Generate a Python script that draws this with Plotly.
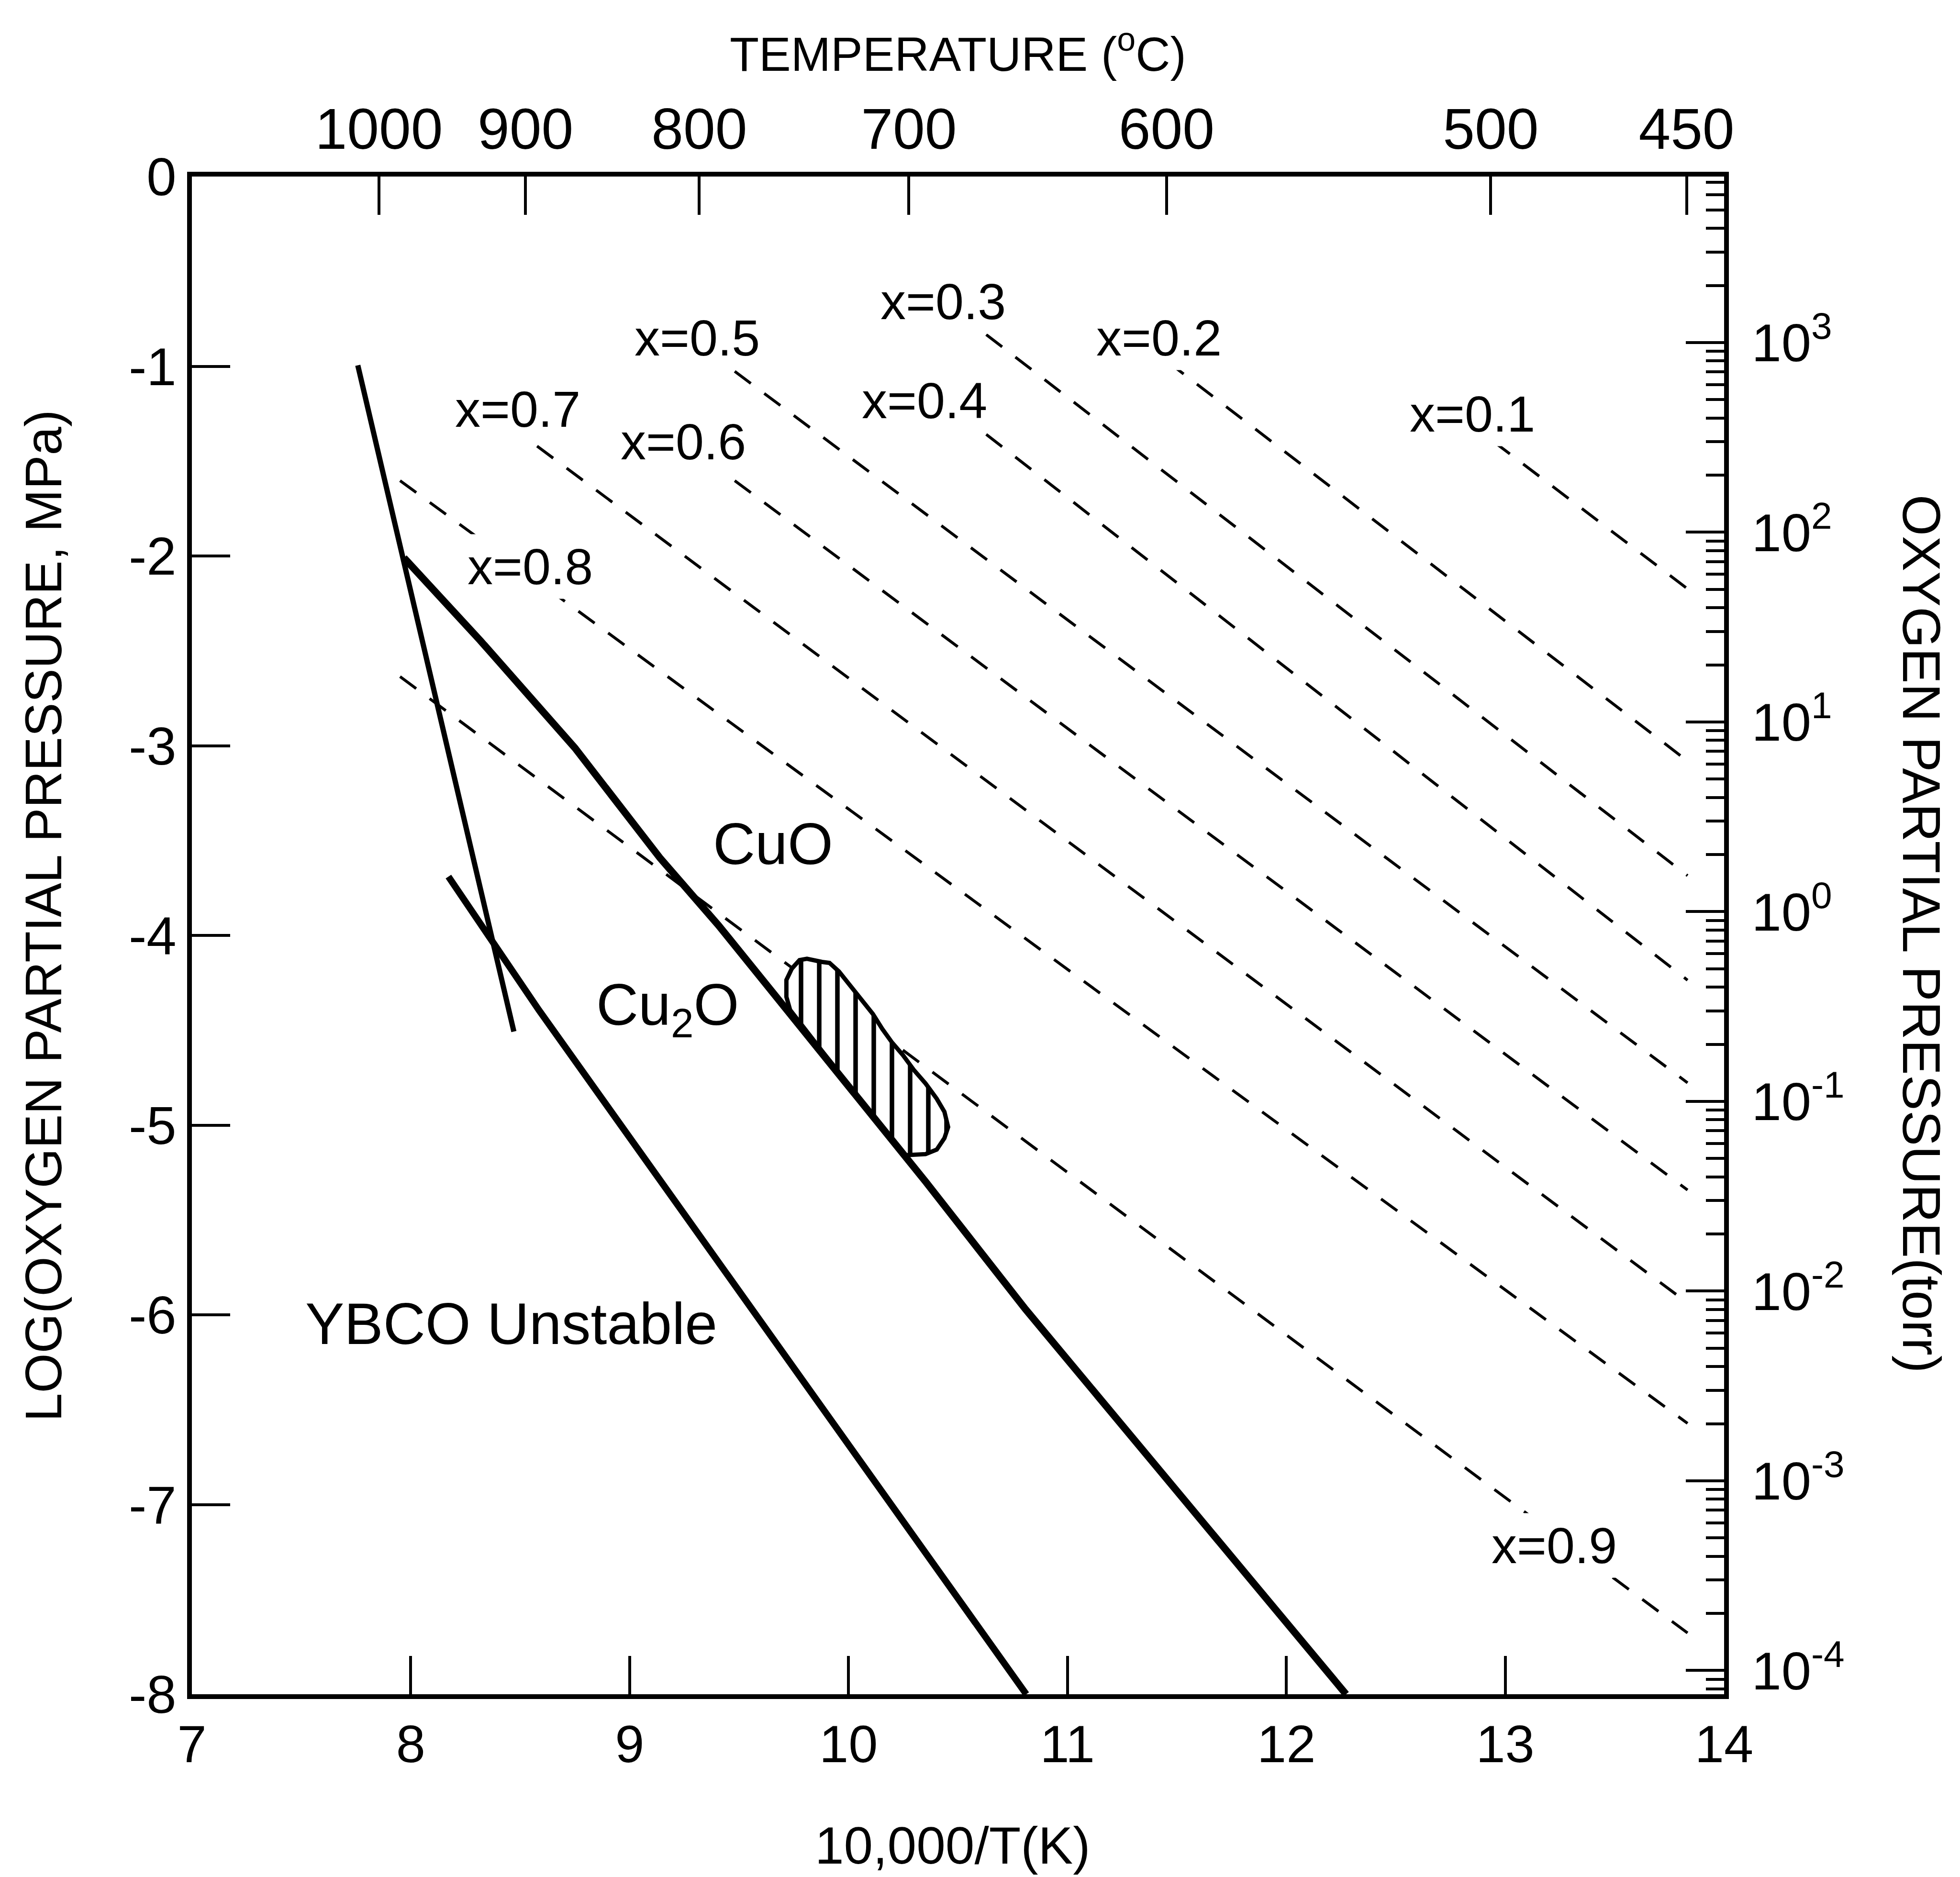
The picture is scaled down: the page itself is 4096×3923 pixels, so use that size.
import plotly.graph_objects as go
import numpy as np

# ---------------- data ----------------
# steep solid line (upper-left)
steep_x = [7.758, 8.471]
steep_y = [-0.995, -4.507]
# CuO / Cu2O boundary
cuo_x = [7.969, 8.317, 8.750, 9.138, 9.406, 10.352, 10.808, 12.273]
cuo_y = [-2.010, -2.445, -3.012, -3.591, -3.947, -5.298, -5.970, -8.0]
# Cu2O / YBCO unstable boundary
cu2o_x = [8.172, 8.586, 10.812]
cu2o_y = [-3.690, -4.395, -8.0]

# iso-composition dashed lines (x = oxygen deficiency)
iso_names = ["x=0.1", "x=0.2", "x=0.3", "x=0.4", "x=0.5", "x=0.6", "x=0.7", "x=0.8", "x=0.9"]
iso_x0 = [12.948, 11.458, 10.629, 10.629, 9.480, 9.480, 8.577, 7.951, 7.951]
iso_y0 = [-1.398, -0.976, -0.833, -1.359, -1.027, -1.603, -1.421, -1.603, -2.636]
iso_x1 = [13.833, 13.833, 13.833, 13.833, 13.833, 13.833, 13.833, 13.833, 13.833]
iso_y1 = [-2.173, -3.081, -3.685, -4.236, -4.777, -5.342, -5.937, -6.572, -7.677]
iso_lab_x = [12.849, 11.418, 10.432, 10.346, 9.309, 9.246, 8.488, 8.545, 13.225]
iso_lab_y = [-1.252, -0.850, -0.659, -1.180, -0.850, -1.397, -1.226, -2.056, -7.216]

# hatched processing window
blob_x = [9.733, 9.716, 9.716, 9.741, 9.776, 9.810, 9.879, 9.913, 9.956, 10.008, 10.059,
          10.111, 10.154, 10.197, 10.249, 10.300, 10.352, 10.403, 10.438, 10.455, 10.438,
          10.403, 10.352, 10.266, 10.244, 9.733]
blob_y = [-4.393, -4.324, -4.235, -4.175, -4.130, -4.123, -4.140, -4.145, -4.190, -4.264, -4.334,
          -4.414, -4.493, -4.562, -4.632, -4.712, -4.781, -4.861, -4.930, -5.010, -5.069,
          -5.129, -5.153, -5.158, -5.153, -4.393]

# axes
x_ticks = [7, 8, 9, 10, 11, 12, 13, 14]
y_ticks = [0, -1, -2, -3, -4, -5, -6, -7, -8]
temp_c = [1000, 900, 800, 700, 600, 500, 450]
torr_exp = [-4, -3, -2, -1, 0, 1, 2, 3]
MPA_TO_TORR = 7500.62

region_labels = ["CuO", "Cu<sub>2</sub>O", "YBCO Unstable"]
region_x = [9.656, 9.172, 8.459]
region_y = [-3.519, -4.389, -6.049]

# ---------------- figure ----------------
FONT = "Liberation Sans, Arial, Helvetica, sans-serif"
fig = go.Figure()

# dashed iso lines
for i in range(len(iso_names)):
    fig.add_trace(go.Scatter(
        x=[iso_x0[i], iso_x1[i]], y=[iso_y0[i], iso_y1[i]], mode="lines",
        line=dict(color="black", width=6, dash="42px,35px"),
        showlegend=False, hoverinfo="skip"))

# hatched blob (covers the dashed line beneath it)
fig.add_trace(go.Scatter(
    x=blob_x, y=blob_y, mode="lines", fill="toself",
    line=dict(color="black", width=9),
    fillcolor="white",
    fillpattern=dict(shape="|", fgcolor="black", bgcolor="white", size=38, solidity=0.25,
                     fillmode="replace"),
    showlegend=False, hoverinfo="skip"))

# solid lines
fig.add_trace(go.Scatter(x=steep_x, y=steep_y, mode="lines",
                         line=dict(color="black", width=11), showlegend=False, hoverinfo="skip"))
fig.add_trace(go.Scatter(x=cuo_x, y=cuo_y, mode="lines",
                         line=dict(color="black", width=15), showlegend=False, hoverinfo="skip"))
fig.add_trace(go.Scatter(x=cu2o_x, y=cu2o_y, mode="lines",
                         line=dict(color="black", width=14), showlegend=False, hoverinfo="skip"))

# invisible trace to carry the top / right axes
torr_min = 10 ** (y_ticks[-1] + np.log10(MPA_TO_TORR))
torr_max = 10 ** (y_ticks[0] + np.log10(MPA_TO_TORR))
fig.add_trace(go.Scatter(x=[x_ticks[0], x_ticks[-1]], y=[torr_min, torr_max],
                         xaxis="x2", yaxis="y2", mode="lines",
                         line=dict(width=0, color="rgba(0,0,0,0)"),
                         showlegend=False, hoverinfo="skip"))

temp_pos = [10000.0 / (t + 273.15) for t in temp_c]
major_torr = [10.0 ** e for e in torr_exp]
minor_torr = []
for e in range(torr_exp[0] - 1, torr_exp[-1] + 1):
    for m in range(2, 10):
        v = m * 10.0 ** e
        if torr_min <= v <= torr_max:
            minor_torr.append(v)

axis_common = dict(showline=True, linecolor="black", linewidth=10, ticks="inside",
                   tickcolor="black", tickwidth=6, ticklen=80, showgrid=False,
                   zeroline=False, color="black")

fig.update_layout(
    width=4096, height=3923,
    margin=dict(l=401, r=493, t=369, b=382, pad=0),
    paper_bgcolor="white", plot_bgcolor="white",
    font=dict(family=FONT, color="black", size=110),
    xaxis=dict(range=[7, 14], tickvals=x_ticks, ticktext=[str(v) for v in x_ticks],
               tickfont=dict(size=110), **axis_common),
    yaxis=dict(range=[-8, 0], tickvals=y_ticks, ticktext=[str(v) for v in y_ticks],
               tickfont=dict(size=112), **axis_common),
    xaxis2=dict(range=[7, 14], overlaying="x", side="top", anchor="y",
                tickvals=temp_pos, ticktext=[str(t) for t in temp_c],
                tickfont=dict(size=120), **axis_common),
    yaxis2=dict(type="log", range=[np.log10(torr_min), np.log10(torr_max)],
                overlaying="y", side="right", anchor="x",
                tickvals=major_torr, ticktext=["10<sup>%d</sup>" % e for e in torr_exp],
                tickfont=dict(size=112), ticklabelstandoff=25,
                minor=dict(tickvals=minor_torr, ticks="inside", ticklen=38,
                           tickwidth=6, tickcolor="black"),
                **axis_common),
)

annotations = []
for i, name in enumerate(iso_names):
    annotations.append(dict(x=iso_lab_x[i], y=iso_lab_y[i], xref="x", yref="y",
                            text=name, showarrow=False, font=dict(size=106),
                            bgcolor="white", borderpad=8))
for i, name in enumerate(region_labels):
    annotations.append(dict(x=region_x[i], y=region_y[i], xref="x", yref="y",
                            text=name, showarrow=False, font=dict(size=122)))

annotations += [
    dict(x=0.5, y=1.0829, xref="paper", yref="paper", text="TEMPERATURE (<sup>o</sup>C)",
         showarrow=False, font=dict(size=100), xanchor="center", yanchor="middle"),
    dict(x=0.4966, y=-0.0996, xref="paper", yref="paper", text="10,000/T(K)",
         showarrow=False, font=dict(size=109), xanchor="center", yanchor="middle"),
    dict(x=-0.0968, y=0.5129, xref="paper", yref="paper",
         text="LOG(OXYGEN PARTIAL PRESSURE, MPa)", textangle=-90,
         showarrow=False, font=dict(size=107), xanchor="center", yanchor="middle"),
    dict(x=1.1287, y=0.501, xref="paper", yref="paper",
         text="OXYGEN PARTIAL PRESSURE(torr)", textangle=90,
         showarrow=False, font=dict(size=111), xanchor="center", yanchor="middle"),
]
fig.update_layout(annotations=annotations)

fig.write_html("out.html")
